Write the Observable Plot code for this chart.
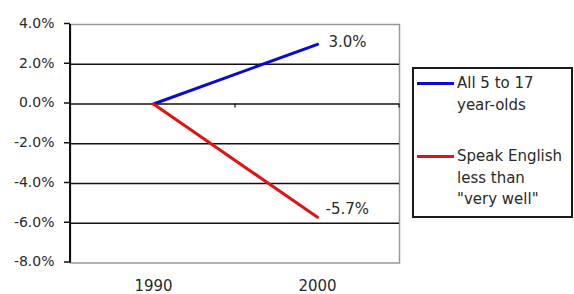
<!DOCTYPE html>
<html>
<head>
<meta charset="utf-8">
<script src="https://cdn.jsdelivr.net/npm/d3@7"></script>
<script src="https://cdn.jsdelivr.net/npm/@observablehq/plot@0.6"></script>
<style>
  html, body { margin: 0; padding: 0; background: #fff; }
  #wrap { position: relative; width: 574px; height: 294px; overflow: hidden; }
  #legend { position: absolute; left: 412px; top: 67px; width: 157px; height: 147px;
    border: 2px solid #1a1a1a; background: #fff; font-family: "DejaVu Sans", sans-serif;
    font-size: 15px; color: #2a2a2a; }
  .sw { position: absolute; left: 3px; width: 37px; height: 3px; }
  .lbl { position: absolute; left: 43px; line-height: 21.5px; white-space: nowrap; }
</style>
</head>
<body>
<div id="wrap"><div id="legend"></div></div>
<script>
const years = ["1990", "2000"];
const allKids = [0, 3.0];
const speakLessThanVeryWell = [0, -5.7];
const seriesNames = ["All 5 to 17 year-olds", "Speak English less than \"very well\""];
const legendLines = [["All 5 to 17", "year-olds"], ["Speak English", "less than", "\"very well\""]];
const seriesColors = ["#0a0ad0", "#e01414"];
const yTicks = [4, 2, 0, -2, -4, -6, -8];
const gridTicks = [2, 0, -2, -4, -6];

const data = [];
years.forEach((y, i) => data.push({year: y, value: allKids[i], series: seriesNames[0]}));
years.forEach((y, i) => data.push({year: y, value: speakLessThanVeryWell[i], series: seriesNames[1]}));
const endPoints = data.filter(d => d.year === years[years.length - 1]);

const fmt = d => d.toFixed(1) + "%";

// Left axis line and category ticks on the zero line, drawn from the scales
const axisLine = (index, scales, values, dims) => {
  const g = d3.create("svg:g");
  const x0 = dims.marginLeft;
  g.append("line").attr("x1", x0).attr("x2", x0)
    .attr("y1", scales.y(yTicks[0])).attr("y2", scales.y(yTicks[yTicks.length - 1]))
    .attr("stroke", "#111").attr("stroke-width", 2);
  const bw = scales.x.bandwidth();
  const bounds = years.map(y => scales.x(y) + bw);
  bounds.forEach(b => {
    g.append("line").attr("x1", b).attr("x2", b)
      .attr("y1", scales.y(0)).attr("y2", scales.y(0) + 4)
      .attr("stroke", "#111").attr("stroke-width", 1.2);
  });
  return g.node();
};

const chart = Plot.plot({
  width: 574,
  height: 294,
  marginLeft: 70,
  marginRight: 175,
  marginTop: 24,
  marginBottom: 31.5,
  style: {fontFamily: "DejaVu Sans, sans-serif", color: "#2a2a2a", background: "transparent"},
  x: {type: "band", domain: years, padding: 0, axis: null, label: null},
  y: {domain: [-8, 4], axis: null, label: null},
  color: {domain: seriesNames, range: seriesColors},
  marks: [
    Plot.frame({stroke: "#999", strokeWidth: 1.5}),
    Plot.ruleY(gridTicks, {stroke: "#111", strokeWidth: 1.5}),
    axisLine,
    Plot.axisY(yTicks, {anchor: "left", label: null, tickSize: 6, tickPadding: 10, tickFormat: fmt, fontSize: 14, stroke: "#111", strokeWidth: 1.5, dy: -1}),
    Plot.axisX({anchor: "bottom", label: null, tickSize: 0, tickPadding: 17, fontSize: 15}),
    Plot.line(data, {x: "year", y: "value", z: "series", stroke: "series", strokeWidth: 3}),
    Plot.text(endPoints.filter(d => d.value >= 0), {x: "year", y: "value", text: d => fmt(d.value), textAnchor: "start", dx: 11, dy: -2, fontSize: 15, fill: "#2a2a2a"}),
    Plot.text(endPoints.filter(d => d.value < 0), {x: "year", y: "value", text: d => fmt(d.value), textAnchor: "start", dx: 8, dy: -8, fontSize: 15, fill: "#2a2a2a"})
  ]
});
document.getElementById("wrap").prepend(chart);

// Legend
const legend = document.getElementById("legend");
const itemTops = [4, 77];
legendLines.forEach((lines, i) => {
  const sw = document.createElement("div");
  sw.className = "sw";
  sw.style.top = (itemTops[i] + 9) + "px";
  sw.style.background = seriesColors[i];
  legend.appendChild(sw);
  const lbl = document.createElement("div");
  lbl.className = "lbl";
  lbl.style.top = itemTops[i] + "px";
  lbl.innerHTML = lines.map(t => t.replace(/&/g, "&amp;").replace(/</g, "&lt;")).join("<br>");
  legend.appendChild(lbl);
});
</script>
</body>
</html>
